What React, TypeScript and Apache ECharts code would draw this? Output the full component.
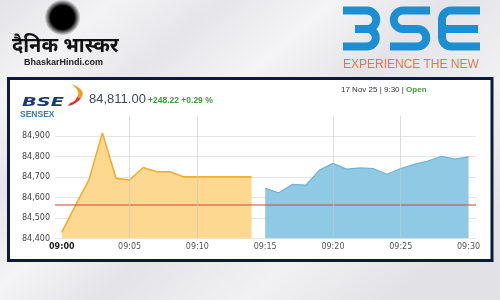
import React, { useEffect, useRef } from 'react';
import * as echarts from 'echarts';

// ---- data ----
const orangeMinutes = [0, 1, 2, 3, 4, 5, 6, 7, 8, 9, 10, 11, 12, 13, 14];
const orangeValues = [84429, 84560, 84685, 84915, 84693, 84685, 84746, 84725, 84725, 84700, 84700, 84700, 84700, 84700, 84700];
const blueMinutes = [15, 16, 17, 18, 19, 20, 21, 22, 23, 24, 25, 26, 27, 28, 29, 30];
const blueValues = [84644, 84622, 84663, 84660, 84733, 84766, 84738, 84744, 84740, 84713, 84741, 84761, 84777, 84801, 84787, 84798];
const previousClose = 84562.78;
const tickMinutes = [0, 5, 10, 15, 20, 25, 30];
const timeLabels = ['09:00', '09:05', '09:10', '09:15', '09:20', '09:25', '09:30'];
const gridMinutes = [5, 10, 20, 25];
const xMin = -0.5;
const xMax = 30.55;
const yMin = 84400;
const yMax = 85000;
const yStep = 100;

const headlineValue = '84,811.00';
const headlineChange = '+248.22 +0.29 %';
const dateText = '17 Nov 25 | 9:30 | ';
const statusText = 'Open';

const bigLogoPath =
  'M343 10.5 L367 10.5 A9.25 9.25 0 0 1 367 29 L355 29 M367 29 A8.75 8.75 0 0 1 367 46.5 L343 46.5 ' +
  'M430 10.5 L403 10.5 A9.25 9.25 0 0 0 403 29 L417.5 29 A8.75 8.75 0 0 1 417.5 46.5 L390 46.5 ' +
  'M480 10.5 L451 10.5 A9 9 0 0 0 442 19.5 L442 37.5 A9 9 0 0 0 451 46.5 L480 46.5 M446 29 L478 29';
const swooshOrange = 'M71 84 C80 87 86 92 81 98 L77 97 C80 93 78 89 71 84 Z';
const swooshRed = 'M81 98 C78 102 74 105 68 106 L70 103 C74 102 76 100 77 97 Z';

let registered = false;
function registerShapes() {
  if (registered) return;
  registered = true;
  echarts.graphic.registerShape('bseBig', echarts.graphic.extendPath(bigLogoPath, {}));
  echarts.graphic.registerShape('swooshO', echarts.graphic.extendPath(swooshOrange, {}));
  echarts.graphic.registerShape('swooshR', echarts.graphic.extendPath(swooshRed, {}));
}

export default function App() {
  const ref = useRef<HTMLDivElement>(null);
  useEffect(() => {
    if (!ref.current) return;
    registerShapes();
    const chart = echarts.init(ref.current, undefined, { renderer: 'svg' });
    const font = 'DejaVu Sans';
    chart.setOption({
      animation: false,
      graphic: [
        {
          type: 'rect',
          z: -10,
          silent: true,
          shape: { x: 0, y: 0, width: 500, height: 300 },
          style: {
            fill: {
              type: 'linear', x: 0, y: 0, x2: 1, y2: 0.7,
              colorStops: [
                { offset: 0, color: '#e3e3e7' },
                { offset: 0.15, color: '#f3f3f5' },
                { offset: 0.3, color: '#e6e6ea' },
                { offset: 0.45, color: '#f4f4f6' },
                { offset: 0.6, color: '#e4e4e8' },
                { offset: 0.8, color: '#f1f1f3' },
                { offset: 1, color: '#e2e2e6' },
              ],
            },
          },
        },
        {
          type: 'rect',
          z: -9,
          silent: true,
          shape: { x: 8.5, y: 78.5, width: 483.5, height: 182 },
          style: { fill: '#ffffff', stroke: '#0c1a3c', lineWidth: 3 },
        },
        // Dainik Bhaskar logo
        {
          type: 'circle',
          z: 10,
          shape: { cx: 62.5, cy: 17.5, r: 18 },
          style: {
            fill: {
              type: 'radial', x: 0.5, y: 0.5, r: 0.5,
              colorStops: [
                { offset: 0, color: '#000' },
                { offset: 0.66, color: '#000' },
                { offset: 0.8, color: 'rgba(0,0,0,0.6)' },
                { offset: 1, color: 'rgba(0,0,0,0)' },
              ],
            },
          },
        },
        {
          type: 'text',
          z: 10,
          x: 12,
          y: 44,
          style: {
            text: 'दैनिक भास्कर',
            fontSize: 20,
            fontWeight: 'bold',
            fill: '#111',
            textVerticalAlign: 'middle',
            fontFamily: 'Noto Sans, DejaVu Sans, sans-serif',
          },
        },
        {
          type: 'text',
          z: 10,
          x: 24,
          y: 61.5,
          style: {
            text: 'BhaskarHindi.com',
            fontSize: 9,
            fontWeight: 'bold',
            fill: '#222',
            textVerticalAlign: 'middle',
            fontFamily: 'Liberation Sans',
          },
        },
        // BSE big logo
        {
          type: 'bseBig',
          z: 10,
          style: { fill: 'none', stroke: '#1b8fd2', lineWidth: 8 },
        },
        {
          type: 'text',
          z: 10,
          x: 343,
          y: 64,
          style: {
            text: 'EXPERIENCE THE NEW',
            fontSize: 12,
            fill: '#e8773f',
            textVerticalAlign: 'middle',
            fontFamily: 'Liberation Sans',
          },
        },
        // small BSE logo
        {
          type: 'text',
          z: 10,
          x: 22,
          y: 101.5,
          scaleX: 1.55,
          style: {
            text: 'BSE',
            fontSize: 12.5,
            fontWeight: 'bold',
            fontStyle: 'italic',
            fill: '#1e3a6d',
            textVerticalAlign: 'middle',
            fontFamily: font,
          },
        },
        { type: 'swooshO', z: 10, style: { fill: '#f39c1d' } },
        { type: 'swooshR', z: 10, style: { fill: '#e0352b' } },
        {
          type: 'text',
          z: 10,
          x: 20,
          y: 113.5,
          style: {
            text: 'SENSEX',
            fontSize: 8.5,
            fontWeight: 'bold',
            fill: '#2b7db5',
            textVerticalAlign: 'middle',
            fontFamily: 'Liberation Sans',
          },
        },
        {
          type: 'text',
          z: 10,
          x: 89,
          y: 98,
          style: {
            text: headlineValue,
            fontSize: 13,
            fill: '#3b4a5c',
            textVerticalAlign: 'middle',
            fontFamily: 'Liberation Sans',
          },
        },
        {
          type: 'text',
          z: 10,
          x: 148,
          y: 99.5,
          style: {
            text: headlineChange,
            fontSize: 8.5,
            fontWeight: 'bold',
            fill: '#3c9a35',
            textVerticalAlign: 'middle',
            fontFamily: 'Liberation Sans',
          },
        },
        {
          type: 'text',
          z: 10,
          x: 341,
          y: 89,
          style: {
            text: `{d|${dateText}}{o|${statusText}}`,
            textVerticalAlign: 'middle',
            rich: {
              d: { fontSize: 8, fill: '#333', fontFamily: 'Liberation Sans' },
              o: { fontSize: 8, fill: '#3c9a35', fontWeight: 'bold', fontFamily: 'Liberation Sans' },
            },
          },
        },
      ],
      grid: { left: 55, right: 24, top: 115.5, bottom: 61.7 },
      xAxis: {
        type: 'value',
        min: xMin,
        max: xMax,
        axisLine: { show: false },
        axisTick: { show: false },
        splitLine: { show: false },
        axisLabel: {
          customValues: tickMinutes,
          margin: 4,
          fontSize: 8,
          color: '#555',
          fontFamily: font,
          formatter: (v: number) => {
            const i = tickMinutes.indexOf(v);
            const s = i >= 0 ? timeLabels[i] : '';
            return v === 0 ? `{b|${s}}` : s;
          },
          rich: { b: { fontWeight: 'bold', color: '#222', fontSize: 8, fontFamily: font } },
        },
      },
      yAxis: {
        type: 'value',
        min: yMin,
        max: yMax,
        interval: yStep,
        axisLine: { show: false },
        axisTick: { show: false },
        splitLine: { show: true, showMaxLine: false, lineStyle: { color: '#e6e6e6', width: 1 } },
        axisLabel: {
          margin: 5,
          fontSize: 8,
          color: '#444',
          fontFamily: font,
          formatter: (v: number) => (v >= yMax ? '' : v.toLocaleString('en-US')),
        },
      },
      series: [
        {
          type: 'line',
          z: 2,
          data: orangeMinutes.map((m, i) => [m, orangeValues[i]]),
          symbol: 'none',
          lineStyle: { color: '#f0ae2e', width: 1.6 },
          areaStyle: { color: '#fdd890', opacity: 1 },
          markLine: {
            silent: true,
            symbol: ['none', 'none'],
            label: { show: false },
            lineStyle: { color: 'rgba(200,200,200,0.6)', width: 1, type: 'solid' },
            data: gridMinutes.map((m) => ({ xAxis: m })),
          },
        },
        {
          type: 'line',
          z: 3,
          data: blueMinutes.map((m, i) => [m, blueValues[i]]),
          symbol: 'none',
          lineStyle: { color: '#72b3d6', width: 1.2 },
          areaStyle: { color: '#8fcae4', opacity: 1 },
        },
        {
          type: 'line',
          z: 4,
          silent: true,
          data: [[xMin, previousClose], [xMax, previousClose]],
          symbol: 'none',
          color: '#d0453c',
          lineStyle: { color: '#d0453c', width: 1.2 },
        },
      ],
    });
    return () => chart.dispose();
  }, []);
  return <div ref={ref} style={{ position: 'fixed', left: 0, top: 0, width: 500, height: 300 }} />;
}
